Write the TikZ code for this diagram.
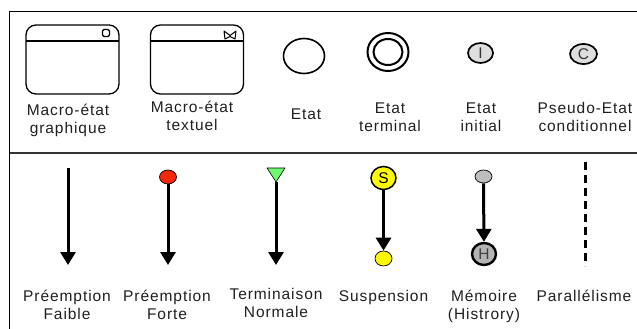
\documentclass[tikz,border=0pt]{standalone}
\usepackage{fontspec}
\setmainfont{Liberation Sans}[LetterSpace=6]
\usetikzlibrary{arrows.meta,shapes.geometric}

\definecolor{rouge}{RGB}{245,40,10}
\definecolor{vert}{RGB}{110,250,110}
\definecolor{jaune}{RGB}{255,250,0}
\definecolor{gris}{RGB}{190,190,190}
\definecolor{grisclair}{RGB}{222,222,222}

\begin{document}
\begin{tikzpicture}[x=1pt,y=-1pt,
  font=\fontsize{15.5}{18}\selectfont,
  macro/.style={rectangle,draw,line width=1.3pt,rounded corners=10pt,
                minimum width=93pt,minimum height=69pt,inner sep=0pt,
                path picture={\draw[line width=1.3pt]
                  ([yshift=-16pt]path picture bounding box.north west) --
                  ([yshift=-16pt]path picture bounding box.north east);}},
  etat/.style={ellipse,draw,line width=1.6pt,inner sep=0pt},
  pseudo/.style={ellipse,draw,line width=1.7pt,fill=grisclair,inner sep=0pt,
                 minimum width=25pt,minimum height=20pt,text=black!80},
  dot/.style={ellipse,draw,line width=0.7pt,inner sep=0pt,
              minimum width=17pt,minimum height=14pt},
  lbl/.style={anchor=north,align=center,inner sep=0pt,text=black!88},
  trans/.style={-{Triangle[width=15pt,length=13pt]},line width=3pt}]
  \tikzstyle{parallel} = [line width=3pt,dash pattern=on 8pt off 5pt]

  \useasboundingbox (0,0) rectangle (637,329);
  \draw[line width=1.3pt] (9.5,11.5) rectangle (680,380);
  \draw[line width=1.4pt,black!80] (9.5,153) -- (680,153);

    % etats
    \node[macro] (macroG) at (72.5,59.5) {};
    \node[draw,line width=1.1pt,rounded corners=1.5pt,minimum size=7pt,inner sep=0pt]
      (iconG) at (106,33) {};
    \node[macro] (macroT) at (197,59.5) {};
    \draw[line width=1pt,line join=round] (224,31) -- (230,35.5) -- (236,31)
      -- (235,39) -- (230,36.5) -- (225,39) -- cycle;
    \node[etat,minimum width=41pt,minimum height=35pt] (etat) at (304,56) {};
    \node[etat,line width=2pt,minimum width=41pt,minimum height=38pt] (terminal) at (388,52) {};
    \node[etat,line width=2pt,minimum width=29pt,minimum height=26pt] (terminalIn) at (388,52) {};
    \node[pseudo] (initial) at (480.5,53) {I};
    \node[pseudo,minimum width=27pt] (cond) at (583.5,54) {C};

    \node[lbl] (lblG) at (68,104) {Macro-état\\graphique};
    \node[lbl] (lblT) at (192,101) {Macro-état\\textuel};
    \node[lbl] (lblE) at (306,109) {Etat};
    \node[lbl] (lblTerm) at (390,102.5) {Etat\\terminal};
    \node[lbl] (lblI) at (481,102.5) {Etat\\initial};
    \node[lbl] (lblC) at (585,102.5) {Pseudo-Etat\\conditionnel};

    % transitions
    \coordinate (faibleTop) at (68,168);
    \coordinate (faibleEnd) at (68,265);
    \draw[trans] (faibleTop) -- (faibleEnd);

    \coordinate (forteEnd) at (168,265);
    \node[dot,fill=rouge] (forteDot) at (168,177) {};
    \draw[trans] (forteDot) -- (forteEnd);

    \coordinate (normEnd) at (276,265);
    \coordinate (normApex) at (276,182);
    \draw[trans] (normApex) -- (normEnd);
    \filldraw[fill=vert,line width=0.6pt,line join=round] (267,168) -- (285,168) -- (normApex) -- cycle;

    \node[ellipse,draw,line width=1.5pt,fill=jaune,inner sep=0pt,minimum width=25pt,
          minimum height=23pt] (suspS) at (383.5,178) {S};
    \node[dot,fill=jaune,minimum height=15pt] (suspEnd) at (383.5,258.5) {};
    \draw[trans] (suspS) -- (suspEnd);

    \node[dot,fill=gris,minimum height=13pt] (memTop) at (483.5,176.5) {};
    \node[ellipse,draw,line width=2.4pt,fill=gris!95!black,inner sep=0pt,minimum width=24pt,
          minimum height=22pt,text=black!75] (memH) at (484,254) {H};
    \draw[trans] (memTop) -- (memH);

    \coordinate (parTop) at (585,162);
    \coordinate (parEnd) at (585,266);
    \draw[parallel] (parTop) -- (parEnd);

    \node[lbl] (lblFaible) at (67,290) {Préemption\\Faible};
    \node[lbl] (lblForte) at (167,290) {Préemption\\Forte};
    \node[lbl] (lblNorm) at (276,288) {Terminaison\\Normale};
    \node[lbl] (lblSusp) at (383.5,290) {Suspension};
    \node[lbl] (lblMem) at (484,290) {Mémoire\\(Histrory)};
    \node[lbl] (lblPar) at (584,290) {Parallélisme};

\end{tikzpicture}
\end{document}
